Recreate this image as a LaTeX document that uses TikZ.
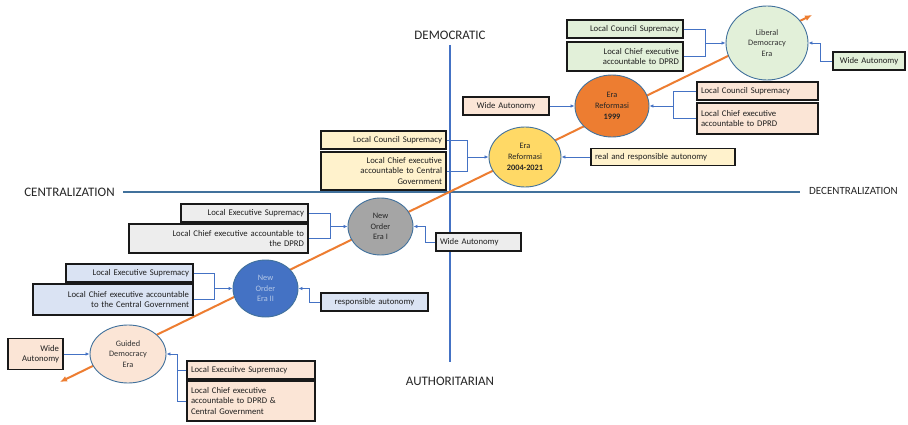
\documentclass[tikz,border=0pt]{standalone}
\usepackage{fontspec}
\setmainfont{Carlito}
\usetikzlibrary{arrows.meta,shapes.geometric}
\definecolor{axisv}{HTML}{4472C4}
\definecolor{axish}{HTML}{41719C}
\definecolor{connblue}{HTML}{4472C4}
\definecolor{ellborder}{HTML}{41719C}
\definecolor{orangeline}{HTML}{ED7D31}
\definecolor{ldfill}{HTML}{E2F0D9}
\definecolor{peach}{HTML}{FBE5D6}
\definecolor{cream}{HTML}{FFF2CC}
\definecolor{lgray}{HTML}{EDEDED}
\definecolor{lblue}{HTML}{DAE3F3}
\definecolor{yellowell}{HTML}{FFD966}
\definecolor{grayell}{HTML}{A5A5A5}
\definecolor{blueell}{HTML}{4472C4}
\definecolor{paleblue}{HTML}{B4C7E7}
\begin{document}
\begin{tikzpicture}[x=1pt,y=-1pt,
  ell/.style={ellipse, draw=ellborder, line width=0.9pt, inner sep=0pt, align=center,
    font=\fontsize{8.3}{10.8}\selectfont, text=black!80},
  box/.style={draw=black!90, line width=1.1pt, inner xsep=4pt, inner ysep=1pt,
    font=\fontsize{8.7}{10.2}\selectfont, text=black!88},
  conn/.style={draw=connblue, line width=0.8pt},
  arr/.style={-{Latex[length=4pt,width=3.5pt]}},
  axlab/.style={font=\fontsize{13}{15}\selectfont, text=black!85}]
\fill[white] (0,0) rectangle (908,425);
\useasboundingbox (0,0) rectangle (908,425);
% axes
\coordinate (vt) at (450,45);
\coordinate (vb) at (450,362);
\coordinate (hl) at (123,192);
\coordinate (hr) at (800,192);
\draw[axisv, line width=1.8pt] (vt) -- (vb);
\draw[axish, line width=1.8pt] (hl) -- (hr);
\node[axlab] (dem) at (450,35) {DEMOCRATIC};
\node[axlab] (aut) at (450,381) {AUTHORITARIAN};
\node[axlab] (cen) at (69.5,192) {CENTRALIZATION};
\node[axlab, font=\fontsize{11}{13}\selectfont] (dec) at (853.5,191) {DECENTRALIZATION};
% orange trend line
\coordinate (os) at (60,382);
\coordinate (oe) at (812,15);
\draw[orangeline, line width=2pt, {Latex[length=7pt,width=6pt]}-{Latex[length=7pt,width=6pt]}] (os) -- (oe);
% ellipses
\node[ell, fill=ldfill, minimum width=82, minimum height=74] (LD) at (767,43) {Liberal\\Democracy\\Era};
\node[ell, fill=orangeline, minimum width=74, minimum height=62, text=black!85] (R99) at (612,106) {Era\\Reformasi\\\textbf{1999}};
\node[ell, fill=yellowell, minimum width=72, minimum height=60, text=black!85] (R04) at (525,157) {Era\\Reformasi\\\textbf{2004-2021}};
\node[ell, fill=grayell, minimum width=65, minimum height=57, text=black!85] (NO1) at (380.5,226.5) {New\\Order\\Era I};
\node[ell, fill=blueell, minimum width=65, minimum height=57, text=paleblue] (NO2) at (265.5,288.5) {New\\Order\\Era II};
\node[ell, fill=peach, minimum width=76, minimum height=58] (GD) at (128,354) {Guided\\Democracy\\Era};
% boxes: Liberal Democracy
\node[box, fill=ldfill, text width=108, minimum height=18, align=right] (LDa) at (625,29) {Local Council Supremacy};
\node[box, fill=ldfill, text width=108, minimum height=29, align=right] (LDb) at (625,56.5) {Local Chief executive\\accountable to DPRD};
\node[box, fill=ldfill, text width=64, minimum height=18, align=center] (LDw) at (869,61) {Wide Autonomy};
% Era Reformasi 1999
\node[box, fill=peach, text width=78, minimum height=18, align=center] (R99w) at (506,106) {Wide Autonomy};
\node[box, fill=peach, text width=113, minimum height=18, align=left] (R99a) at (757.5,91) {Local Council Supremacy};
\node[box, fill=peach, text width=113, minimum height=31, align=left] (R99b) at (757.5,118.5) {Local Chief executive\\accountable to DPRD};
% Era Reformasi 2004-2021
\node[box, fill=cream, text width=117, minimum height=18, align=right] (R04a) at (383.5,140) {Local Council Supremacy};
\node[box, fill=cream, text width=117, minimum height=38, align=right] (R04b) at (383.5,171) {Local Chief executive\\accountable to Central\\Government};
\node[box, fill=cream, text width=136, minimum height=17, align=left] (R04r) at (663,157) {real and responsible autonomy};
% New Order Era I
\node[box, fill=lgray, text width=119, minimum height=18, align=right] (NO1a) at (244.5,213) {Local Executive Supremacy};
\node[box, fill=lgray, text width=171, minimum height=29, align=right] (NO1b) at (218.5,238.5) {Local Chief executive accountable to\\the DPRD};
\node[box, fill=lgray, text width=77, minimum height=18, align=left] (NO1w) at (478.5,242) {Wide Autonomy};
% New Order Era II
\node[box, fill=lblue, text width=119, minimum height=18, align=right] (NO2a) at (129.5,273) {Local Executive Supremacy};
\node[box, fill=lblue, text width=152, minimum height=31, align=right] (NO2b) at (113,299.5) {Local Chief executive accountable\\to the Central Government};
\node[box, fill=lblue, text width=99, minimum height=18, align=center] (NO2r) at (374.5,302) {responsible autonomy};
% Guided Democracy
\node[box, fill=peach, text width=47, minimum height=31, align=right] (GDw) at (35.5,354) {Wide\\Autonomy};
\node[box, fill=peach, text width=120, minimum height=18, align=left] (GDa) at (251,370) {Local Execuitve Supremacy};
\node[box, fill=peach, text width=120, minimum height=40, align=left] (GDb) at (251,401) {Local Chief executive\\accountable to DPRD \&\\Central Government};
% junctions
\coordinate (jLD) at (705,43);
\coordinate (jLDr) at (820,43);
\coordinate (jR99) at (673,106);
\coordinate (jR04) at (467,157);
\coordinate (jNO1) at (330,226.5);
\coordinate (jNO1r) at (425,226.5);
\coordinate (jNO2) at (214,288.5);
\coordinate (jNO2r) at (309,288.5);
\coordinate (jGD) at (177,354);
% connectors
\draw[conn] (LDa.east) -| (jLD);
\draw[conn] (LDb.east) -| (jLD);
\draw[conn,arr] (jLD) -- (LD.west);
\draw[conn,arr] (LDw.west) -| (jLDr) -- (LD.east);
\draw[conn,arr] (R99w.east) -- (R99.west);
\draw[conn] (R99a.west) -| (jR99);
\draw[conn] (R99b.west) -| (jR99);
\draw[conn,arr] (jR99) -- (R99.east);
\draw[conn] (R04a.east) -| (jR04);
\draw[conn] (R04b.east) -| (jR04);
\draw[conn,arr] (jR04) -- (R04.west);
\draw[conn,arr] (R04r.west) -- (R04.east);
\draw[conn] (NO1a.east) -| (jNO1);
\draw[conn] (NO1b.east) -| (jNO1);
\draw[conn,arr] (jNO1) -- (NO1.west);
\draw[conn,arr] (NO1w.west) -| (jNO1r) -- (NO1.east);
\draw[conn] (NO2a.east) -| (jNO2);
\draw[conn] (NO2b.east) -| (jNO2);
\draw[conn,arr] (jNO2) -- (NO2.west);
\draw[conn,arr] (NO2r.west) -| (jNO2r) -- (NO2.east);
\draw[conn,arr] (GDw.east) -- (GD.west);
\draw[conn] (GDa.west) -| (jGD);
\draw[conn] (GDb.west) -| (jGD);
\draw[conn,arr] (jGD) -- (GD.east);
\end{tikzpicture}
\end{document}
